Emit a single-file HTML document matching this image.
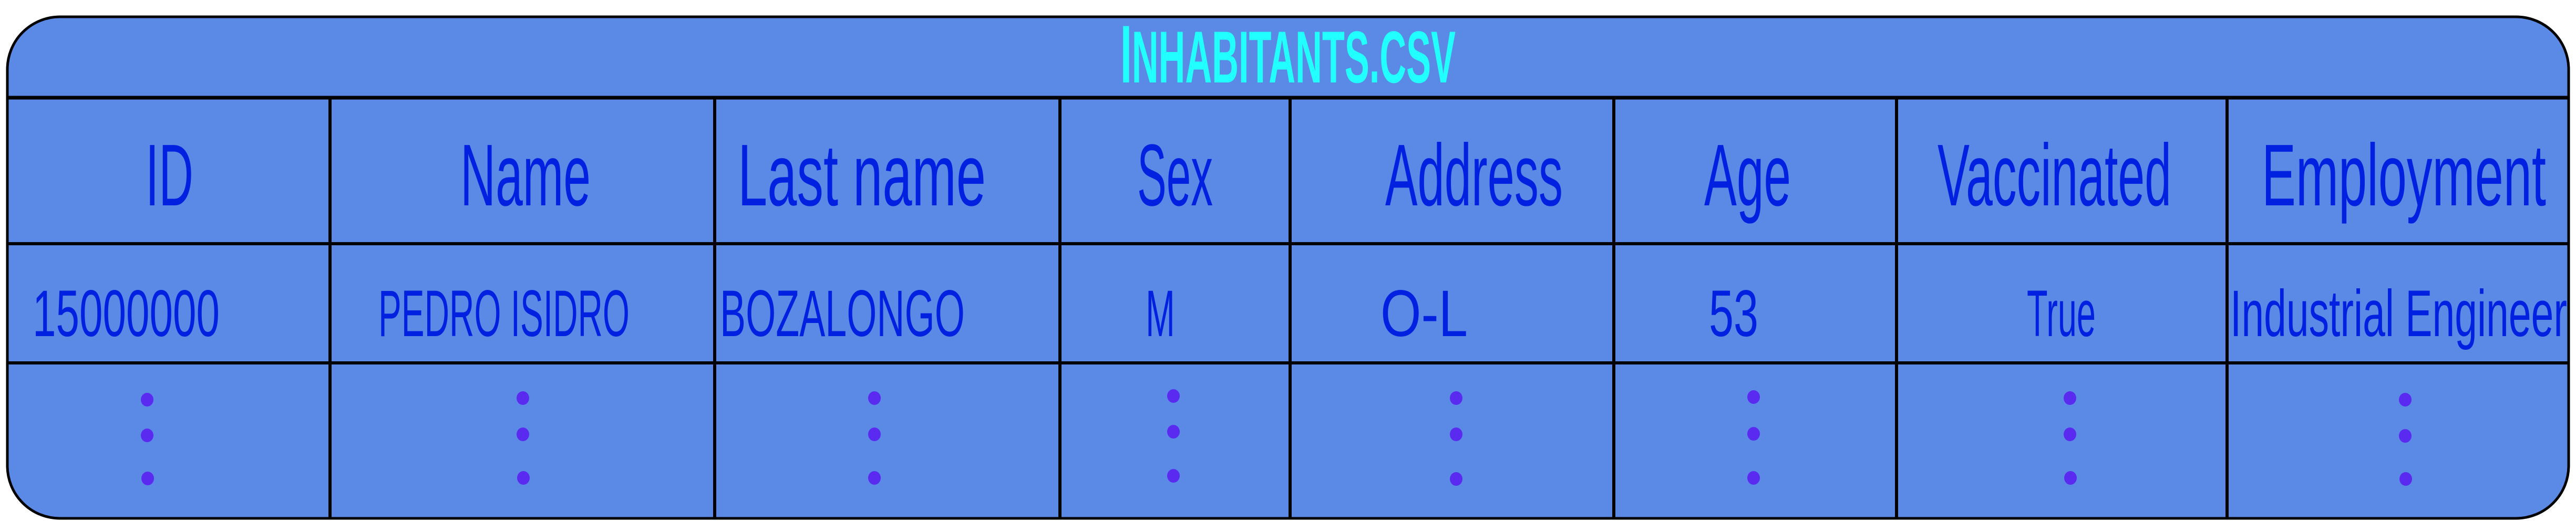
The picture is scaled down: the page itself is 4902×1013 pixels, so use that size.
<!DOCTYPE html>
<html><head><meta charset="utf-8"><style>
html,body{margin:0;padding:0;background:#fff;}
svg{display:block;}
text{font-family:"Liberation Sans",sans-serif;}
</style></head><body>
<svg width="4902" height="1013" viewBox="0 0 4902 1013">
<rect x="14" y="32" width="4874" height="955" rx="100" ry="100" fill="#5b8ae6" stroke="#000" stroke-width="5"/>
<text x="2132" y="157" font-size="140" font-weight="bold" fill="#22ffff" textLength="638" lengthAdjust="spacingAndGlyphs"><tspan font-size="156">I</tspan>NHABITANTS.CSV</text>
<g stroke="#000">
<line x1="14" y1="186" x2="4888" y2="186" stroke-width="7"/>
<line x1="14" y1="464" x2="4888" y2="464" stroke-width="6"/>
<line x1="14" y1="691" x2="4888" y2="691" stroke-width="6"/>
<line x1="628" y1="186" x2="628" y2="985" stroke-width="6"/>
<line x1="1360" y1="186" x2="1360" y2="985" stroke-width="6"/>
<line x1="2017" y1="186" x2="2017" y2="985" stroke-width="6"/>
<line x1="2455" y1="186" x2="2455" y2="985" stroke-width="6"/>
<line x1="3071" y1="186" x2="3071" y2="985" stroke-width="6"/>
<line x1="3609" y1="186" x2="3609" y2="985" stroke-width="6"/>
<line x1="4238" y1="186" x2="4238" y2="985" stroke-width="6"/>
</g>
<g fill="#0022e0" font-size="167">
<text x="277" y="391" textLength="91" lengthAdjust="spacingAndGlyphs">ID</text>
<text x="876" y="391" textLength="248" lengthAdjust="spacingAndGlyphs">Name</text>
<text x="1404" y="391" textLength="472" lengthAdjust="spacingAndGlyphs">Last name</text>
<text x="2164" y="391" textLength="144" lengthAdjust="spacingAndGlyphs">Sex</text>
<text x="2636" y="391" textLength="338" lengthAdjust="spacingAndGlyphs">Address</text>
<text x="3243" y="391" textLength="165" lengthAdjust="spacingAndGlyphs">Age</text>
<text x="3687" y="391" textLength="445" lengthAdjust="spacingAndGlyphs">Vaccinated</text>
<text x="4304" y="391" textLength="541" lengthAdjust="spacingAndGlyphs">Employment</text>
</g>
<g fill="#0022e0" font-size="125">
<text x="62" y="640" textLength="356" lengthAdjust="spacingAndGlyphs">15000000</text>
<text x="720" y="640" textLength="478" lengthAdjust="spacingAndGlyphs">PEDRO ISIDRO</text>
<text x="1370" y="640" textLength="466" lengthAdjust="spacingAndGlyphs">BOZALONGO</text>
<text x="2180" y="640" textLength="56" lengthAdjust="spacingAndGlyphs">M</text>
<text x="2627" y="640" textLength="166" lengthAdjust="spacingAndGlyphs">O-L</text>
<text x="3252" y="640" textLength="94" lengthAdjust="spacingAndGlyphs">53</text>
<text x="3857" y="640" textLength="131" lengthAdjust="spacingAndGlyphs">True</text>
<text x="4244" y="640" textLength="641" lengthAdjust="spacingAndGlyphs">Industrial Engineer</text>
</g>
<g fill="#5b2af0">
<g><ellipse cx="280" cy="761" rx="12" ry="13"/><ellipse cx="280" cy="829" rx="12" ry="13"/><ellipse cx="281" cy="911" rx="12" ry="13"/></g>
<g><ellipse cx="995" cy="758" rx="12" ry="13"/><ellipse cx="995" cy="827" rx="12" ry="13"/><ellipse cx="996" cy="910" rx="12" ry="13"/></g>
<g><ellipse cx="1664" cy="758" rx="12" ry="13"/><ellipse cx="1664" cy="827" rx="12" ry="13"/><ellipse cx="1664" cy="910" rx="12" ry="13"/></g>
<g><ellipse cx="2233" cy="754" rx="12" ry="13"/><ellipse cx="2233" cy="822" rx="12" ry="13"/><ellipse cx="2233" cy="906" rx="12" ry="13"/></g>
<g><ellipse cx="2771" cy="758" rx="12" ry="13"/><ellipse cx="2771" cy="827" rx="12" ry="13"/><ellipse cx="2771" cy="912" rx="12" ry="13"/></g>
<g><ellipse cx="3337" cy="756" rx="12" ry="13"/><ellipse cx="3337" cy="826" rx="12" ry="13"/><ellipse cx="3337" cy="910" rx="12" ry="13"/></g>
<g><ellipse cx="3939" cy="758" rx="12" ry="13"/><ellipse cx="3939" cy="827" rx="12" ry="13"/><ellipse cx="3940" cy="910" rx="12" ry="13"/></g>
<g><ellipse cx="4577" cy="761" rx="12" ry="13"/><ellipse cx="4577" cy="830" rx="12" ry="13"/><ellipse cx="4578" cy="912" rx="12" ry="13"/></g>
</g>
</svg>
</body></html>
